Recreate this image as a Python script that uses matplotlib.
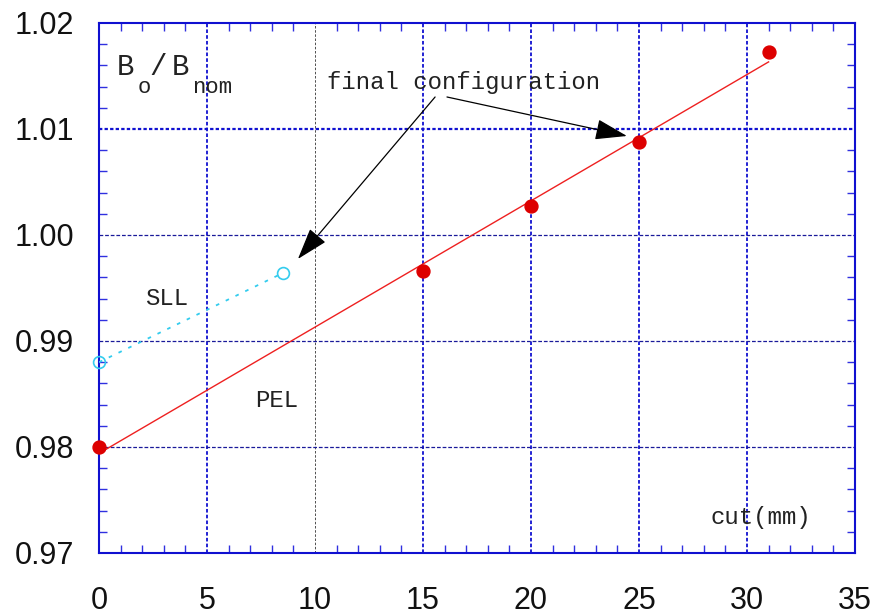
import numpy as np
import matplotlib
matplotlib.use("Agg")
import matplotlib.pyplot as plt

# Data
pel_cut = [0, 15, 20, 25, 31]
pel_b = [0.9800, 0.9966, 1.0027, 1.0088, 1.0173]
sll_cut = [0, 8.5]
sll_b = [0.9880, 0.9964]
x_ticks = [0, 5, 10, 15, 20, 25, 30, 35]
y_ticks = [0.97, 0.98, 0.99, 1.00, 1.01, 1.02]
y_tick_labels = ["0.97", "0.98", "0.99", "1.00", "1.01", "1.02"]

fig = plt.figure(figsize=(8.78, 6.15), dpi=100)
ax = fig.add_axes([99/878, 62/615, 756/878, 530/615])
ax.set_xlim(0, 35)
ax.set_ylim(0.97, 1.02)

blue = "#1010d0"
# grid lines
for xv in [5, 15, 20, 25, 30]:
    ax.axvline(xv, color=blue, lw=1.3, ls=(0, (2, 1.2)), zorder=1)
ax.axvline(10, color="#333333", lw=0.6, ls=(0, (3, 2)), zorder=1)
ax.axhline(1.01, color=blue, lw=1.6, ls=(0, (1.5, 1)), zorder=1)
for yv in [1.00, 0.99, 0.98]:
    ax.axhline(yv, color="#1a1a9a", lw=0.9, ls=(0, (3, 1.5)), zorder=1)

# PEL fit line and points
coef = np.polyfit(pel_cut, pel_b, 1)
xf = np.array([pel_cut[0], pel_cut[-1]])
ax.plot(xf, np.polyval(coef, xf), color="#ee2020", lw=1.0, zorder=3)
ax.plot(pel_cut, pel_b, 'o', color="#dd0000", ms=9.3, zorder=4, clip_on=False)

# SLL
ax.plot(sll_cut, sll_b, color="#33ccee", lw=1.3, ls=(0, (2, 4)), zorder=3)
ax.plot(sll_cut, sll_b, 'o', mfc='none', mec="#33ccee", ms=8.5, mew=1.2, zorder=4, clip_on=False)

# spines & ticks
for s in ax.spines.values():
    s.set_color(blue)
    s.set_linewidth(1.5)
ax.set_xticks(x_ticks)
ax.set_yticks(y_ticks)
ax.set_yticklabels(y_tick_labels)
ax.set_xticks(np.arange(0, 36, 1), minor=True)
ax.set_yticks(np.arange(0.97, 1.0201, 0.002), minor=True)
ax.tick_params(which='both', direction='in', top=True, right=True, color="#3030e0", width=1.0)
ax.tick_params(which='minor', length=6)
ax.tick_params(which='major', length=0)
ax.tick_params(axis='x', which='major', pad=24, labelsize=22, labelcolor="#111111")
ax.tick_params(axis='y', which='major', pad=18, labelsize=22, labelcolor="#111111")
for lab in ax.get_xticklabels() + ax.get_yticklabels():
    lab.set_fontfamily("Liberation Sans")

mono = dict(family="Liberation Mono", color="#222222")
ax.text(10.56, 1.01377, "final configuration", fontsize=17.3, va='baseline', ha='left', **mono)
ax.text(2.13, 0.9934, "SLL", fontsize=17.3, va='baseline', ha='left', **mono)
ax.text(7.22, 0.98377, "PEL", fontsize=17.3, va='baseline', ha='left', **mono)
ax.text(28.29, 0.97274, "cut(mm)", fontsize=17.3, va='baseline', ha='left', **mono)
# B_o / B_nom
ax.text(0.80, 1.0151, "B", fontsize=21, va='baseline', ha='left', **mono)
ax.text(1.80, 1.0134, "o", fontsize=16, va='baseline', ha='left', **mono)
ax.text(2.35, 1.0151, "/", fontsize=21, va='baseline', ha='left', **mono)
ax.text(3.35, 1.0151, "B", fontsize=21, va='baseline', ha='left', **mono)
ax.text(4.31, 1.0134, "nom", fontsize=16, va='baseline', ha='left', **mono)

# arrows
ap = dict(arrowstyle="-|>,head_length=2.0,head_width=0.65", color="black", lw=0.9,
          shrinkA=0, shrinkB=0)
ax.annotate("", xy=(9.21, 0.99774), xytext=(15.56, 1.01302), arrowprops=ap)
ax.annotate("", xy=(24.44, 1.00934), xytext=(16.11, 1.01302), arrowprops=ap)

fig.savefig("out.png", dpi=100)
